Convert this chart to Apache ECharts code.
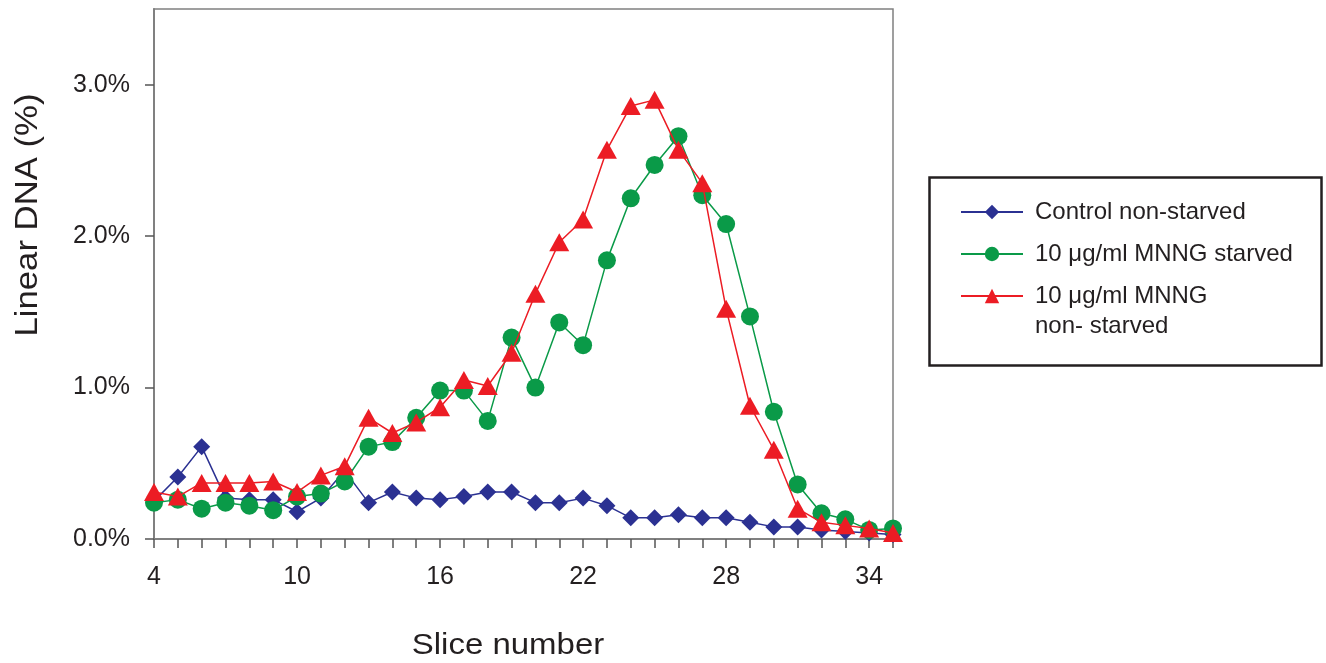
<!DOCTYPE html>
<html>
<head>
<meta charset="utf-8">
<script src="https://cdn.jsdelivr.net/npm/echarts@6/dist/echarts.min.js"></script>
<style>
html,body{margin:0;padding:0;background:#fff;}
#chart{width:1326px;height:663px;}
</style>
</head>
<body>
<div id="chart"></div>
<script>
const slices = [4,5,6,7,8,9,10,11,12,13,14,15,16,17,18,19,20,21,22,23,24,25,26,27,28,29,30,31,32,33,34,35];
const controlNonStarved = [0.25,0.41,0.61,0.27,0.26,0.26,0.18,0.27,0.45,0.24,0.31,0.27,0.26,0.28,0.31,0.31,0.24,0.24,0.27,0.22,0.14,0.14,0.16,0.14,0.14,0.11,0.08,0.08,0.06,0.05,0.04,0.03];
const mnngStarved = [0.24,0.26,0.20,0.24,0.22,0.19,0.28,0.30,0.38,0.61,0.64,0.80,0.98,0.98,0.78,1.33,1.00,1.43,1.28,1.84,2.25,2.47,2.66,2.27,2.08,1.47,0.84,0.36,0.17,0.13,0.06,0.07];
const mnngNonStarved = [0.31,0.28,0.37,0.37,0.37,0.38,0.31,0.42,0.48,0.80,0.70,0.77,0.87,1.05,1.01,1.23,1.62,1.96,2.11,2.57,2.86,2.90,2.57,2.35,1.52,0.88,0.59,0.20,0.11,0.09,0.07,0.04];
const xTickLabels = [4,10,16,22,28,34];
const yTickValues = [0,1,2,3];
const seriesNames = ['Control non-starved','10 μg/ml MNNG starved','10 μg/ml MNNG non- starved'];

const pairs = arr => slices.map((s,i)=>[s,arr[i]]);
const font = 'Liberation Sans, Arial, sans-serif';
const textCol = '#231f20';
const axisCol = '#808080';

const chart = echarts.init(document.getElementById('chart'));
chart.setOption({
  backgroundColor:'#fff',
  animation:false,
  grid:{left:154,top:9,right:433,bottom:124,show:true,borderColor:axisCol,borderWidth:1.5,containLabel:false},
  xAxis:{
    type:'value',min:4,max:35,interval:1,
    axisLine:{lineStyle:{color:axisCol,width:2}},
    axisTick:{show:true,length:9,lineStyle:{color:'#555',width:1.5},customValues:slices},
    axisLabel:{customValues:xTickLabels,margin:26,fontSize:25,color:textCol,fontFamily:font},
    splitLine:{show:false}
  },
  yAxis:{
    type:'value',min:0,max:3.5,interval:1,
    axisLine:{show:true,lineStyle:{color:axisCol,width:2}},
    axisTick:{show:true,length:9,lineStyle:{color:'#555',width:1.5},customValues:yTickValues},
    axisLabel:{customValues:yTickValues,margin:24,fontSize:25,color:textCol,fontFamily:font,formatter:v=>v.toFixed(1)+'%'},
    splitLine:{show:false}
  },
  legend:{
    orient:'vertical',left:955,top:193,itemWidth:62,itemHeight:18,itemGap:14,
    data:seriesNames,
    formatter:n=> n===seriesNames[2] ? '10 μg/ml MNNG' : n,
    textStyle:{fontSize:24,color:textCol,fontFamily:font,lineHeight:28,padding:[0,0,0,7]}
  },
  graphic:[
    {type:'rect',left:927,top:175,shape:{width:392,height:188},style:{fill:'none',stroke:'#231f20',lineWidth:2.5},silent:true},
    {type:'text',x:1035,y:326,style:{text:'non- starved',fontSize:24,fill:textCol,fontFamily:font,verticalAlign:'middle'}},
    {type:'text',x:28,y:215,rotation:Math.PI/2,scaleX:1.12,style:{text:'Linear DNA (%)',fontSize:31,fill:textCol,fontFamily:font,align:'center',verticalAlign:'middle'}},
    {type:'text',x:508,y:646,scaleX:1.1,style:{text:'Slice number',fontSize:30,fill:textCol,fontFamily:font,align:'center',verticalAlign:'middle'}}
  ],
  series:[
    {name:seriesNames[0],type:'line',data:pairs(controlNonStarved),symbol:'diamond',symbolSize:17,
     itemStyle:{color:'#2b3192'},lineStyle:{color:'#2b3192',width:1.5},z:2},
    {name:seriesNames[1],type:'line',data:pairs(mnngStarved),symbol:'circle',symbolSize:18,
     itemStyle:{color:'#0a9a48'},lineStyle:{color:'#0a9a48',width:1.5},z:3},
    {name:seriesNames[2],type:'line',data:pairs(mnngNonStarved),symbol:'triangle',symbolSize:[20,18],
     itemStyle:{color:'#ec1c24'},lineStyle:{color:'#ec1c24',width:1.5},z:4}
  ]
});
</script>
</body>
</html>
